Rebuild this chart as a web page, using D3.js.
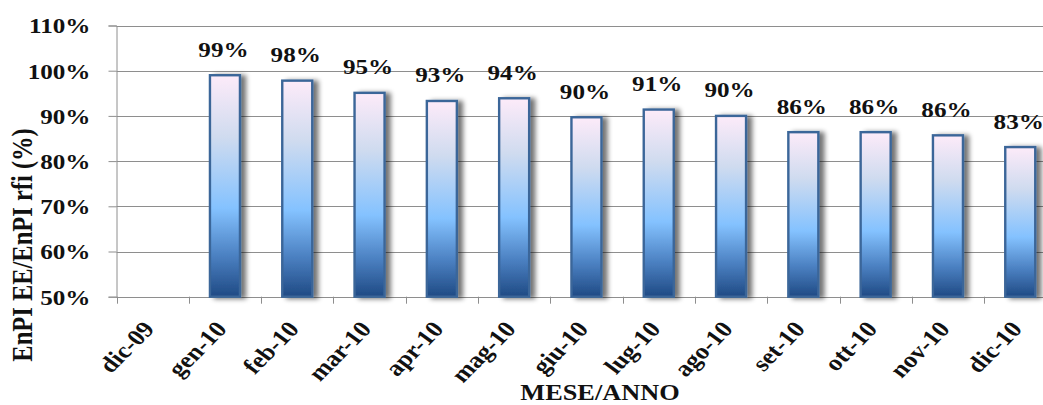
<!DOCTYPE html>
<html>
<head>
<meta charset="utf-8">
<script src="https://cdn.jsdelivr.net/npm/d3@7"></script>
<style>
  html, body { margin: 0; padding: 0; background: #fff; overflow: hidden; }
  svg { display: block; }
  text { font-family: "Liberation Serif", "Times New Roman", serif; font-weight: bold; fill: #111; }
</style>
</head>
<body>
<svg id="chart" width="1043" height="405"></svg>
<script>
// Monthly EnPI ratio (EE vs reference), Dec 2009 – Dec 2010
const months = ["dic-09", "gen-10", "feb-10", "mar-10", "apr-10", "mag-10", "giu-10",
                "lug-10", "ago-10", "set-10", "ott-10", "nov-10", "dic-10"];
const ratio = [null, 0.990, 0.978, 0.951, 0.933, 0.939, 0.897,
               0.914, 0.900, 0.864, 0.864, 0.857, 0.831];
const yTicks = [0.5, 0.6, 0.7, 0.8, 0.9, 1.0, 1.1];

const W = 1043, H = 405;
const plotLeft = 116.5, plotTop = 25.5, plotBottom = 296.7;
const step = 72.3;
const SX = 1.17;            // wide lettering
const fmt = d3.format(".0%");

const svg = d3.select("#chart");
const defs = svg.append("defs");

const grad = defs.append("linearGradient")
  .attr("id", "barFill").attr("x1", 0).attr("y1", 0).attr("x2", 0).attr("y2", 1);
[[0, "#fdebf9"], [0.28, "#cfdbef"], [0.6, "#84c2ff"], [0.82, "#4a7fc0"], [1, "#1f4a84"]]
  .forEach(([o, c]) => grad.append("stop").attr("offset", o).attr("stop-color", c));

const shadow = defs.append("filter").attr("id", "barShadow")
  .attr("x", "-20%").attr("y", "-10%").attr("width", "160%").attr("height", "120%");
shadow.append("feGaussianBlur").attr("in", "SourceAlpha").attr("stdDeviation", 2.6).attr("result", "b");
shadow.append("feOffset").attr("in", "b").attr("dx", 5).attr("dy", 1).attr("result", "o");
shadow.append("feComponentTransfer").attr("in", "o").attr("result", "s")
  .append("feFuncA").attr("type", "linear").attr("slope", 0.55);
const merge = shadow.append("feMerge");
merge.append("feMergeNode").attr("in", "s");
merge.append("feMergeNode").attr("in", "SourceGraphic");

const x = d3.scaleBand()
  .domain(months)
  .range([plotLeft, plotLeft + step * months.length])
  .paddingInner(0.585).paddingOuter(0.2925);

const y = d3.scaleLinear().domain([0.5, 1.1]).range([plotBottom, plotTop]);

// horizontal gridlines
svg.append("g")
  .selectAll("line").data(yTicks).join("line")
  .attr("x1", plotLeft).attr("x2", W)
  .attr("y1", d => Math.round(y(d)) + 0.5).attr("y2", d => Math.round(y(d)) + 0.5)
  .attr("stroke", "#8e8e8e").attr("stroke-width", 1);

// y axis
const yAxis = svg.append("g")
  .attr("transform", `translate(${plotLeft},0)`)
  .call(d3.axisLeft(y).tickValues(yTicks).tickFormat(fmt).tickSize(8));
yAxis.select(".domain").attr("stroke", "#8e8e8e");
yAxis.selectAll(".tick line").attr("stroke", "#8e8e8e");
yAxis.selectAll(".tick text")
  .attr("x", null).attr("dy", "0.34em")
  .attr("transform", `translate(-26,0) scale(${SX},1)`)
  .attr("font-size", 21.5).attr("font-family", "Liberation Serif, serif")
  .attr("font-weight", "bold").attr("fill", "#111");

// x axis line and boundary ticks
const xAxisG = svg.append("g");
xAxisG.append("line")
  .attr("x1", plotLeft).attr("x2", W)
  .attr("y1", Math.round(plotBottom) + 0.5).attr("y2", Math.round(plotBottom) + 0.5)
  .attr("stroke", "#8e8e8e");
xAxisG.selectAll("line.tk").data(d3.range(months.length + 1)).join("line")
  .attr("class", "tk")
  .attr("x1", i => Math.round(plotLeft + i * step) + 0.5).attr("x2", i => Math.round(plotLeft + i * step) + 0.5)
  .attr("y1", plotBottom).attr("y2", plotBottom + 7)
  .attr("stroke", "#8e8e8e");

// category labels, slanted at 45°
const slant = Math.atan(SX) * 180 / Math.PI;
svg.append("g").selectAll("text").data(months).join("text")
  .attr("transform", d => `translate(${x(d) + x.bandwidth() / 2 + 3},${plotBottom + 33}) scale(${SX},1) rotate(${-slant})`)
  .attr("text-anchor", "end")
  .attr("font-size", 22.5)
  .text(d => d);

// bars
const valued = months.map((m, i) => ({ m, v: ratio[i] })).filter(d => d.v != null);
svg.append("g").selectAll("rect").data(valued).join("rect")
  .attr("x", d => x(d.m))
  .attr("y", d => y(d.v))
  .attr("width", x.bandwidth())
  .attr("height", d => y(0.5) - y(d.v))
  .attr("fill", "url(#barFill)")
  .attr("stroke", "#3b6699")
  .attr("stroke-width", 2.4)
  .attr("filter", "url(#barShadow)");

// value labels
svg.append("g").selectAll("text").data(valued).join("text")
  .attr("transform", d => `translate(${x(d.m) + x.bandwidth() / 2 - 1.5},${y(d.v) - 18.5}) scale(${SX},1)`)
  .attr("text-anchor", "middle")
  .attr("font-size", 21.5)
  .text(d => fmt(d.v));

// axis titles
svg.append("text")
  .attr("transform", `translate(32,245) scale(${SX},1) rotate(-90)`)
  .attr("text-anchor", "middle")
  .attr("font-size", 24.5)
  .text("EnPI EE/EnPI rfi (%)");

svg.append("text")
  .attr("transform", `translate(600,400) scale(${SX},1)`)
  .attr("text-anchor", "middle")
  .attr("font-size", 22.5)
  .text("MESE/ANNO");
</script>
</body>
</html>
